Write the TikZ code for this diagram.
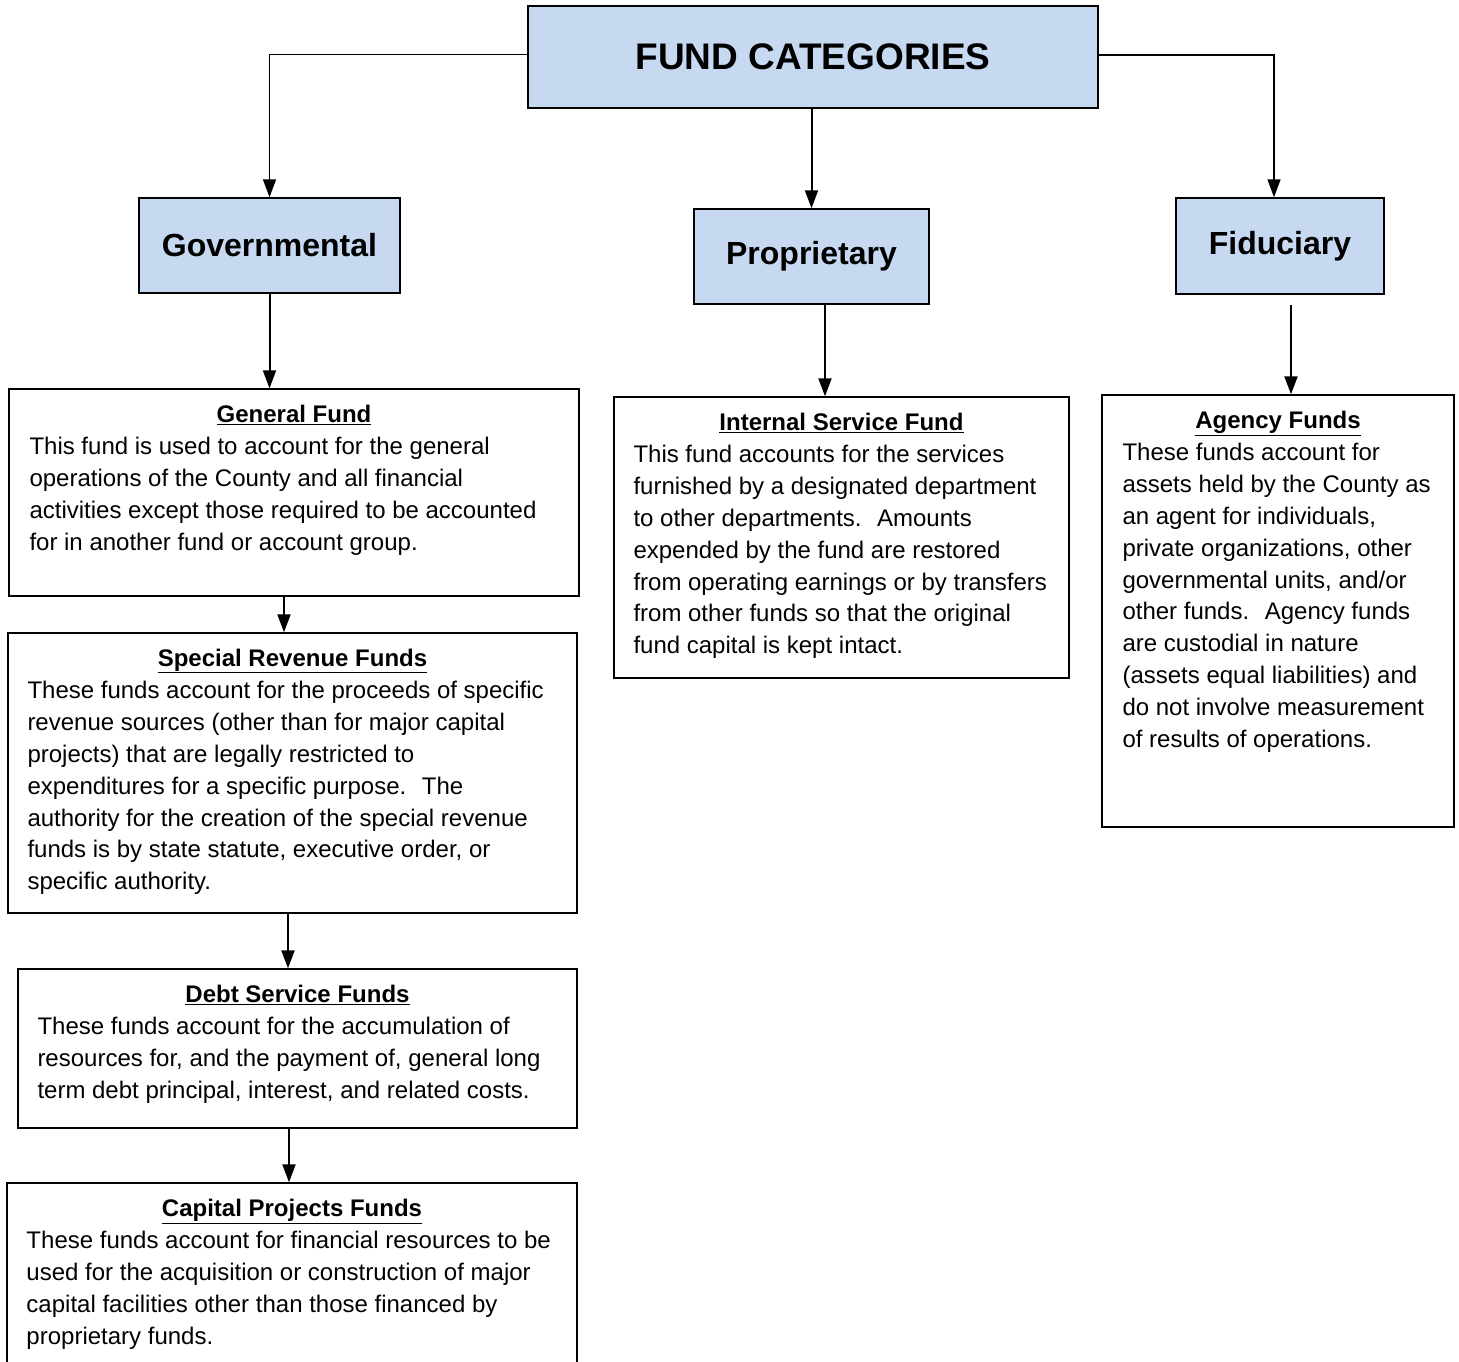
\documentclass[tikz,border=0pt]{standalone}
\usepackage{fontspec}
\setmainfont{Liberation Sans}
\usetikzlibrary{arrows.meta}
\definecolor{catblue}{RGB}{198,217,241}

\begin{document}
\begin{tikzpicture}[x=1pt, y=-1pt,
    catbox/.style={draw, line width=1.5pt, fill=catblue, inner sep=0pt, font=\fontsize{32}{38}\selectfont\bfseries},
    fundbox/.style={draw, line width=1.4pt, inner sep=0pt},
    fundhead/.style={anchor=base, inner sep=0pt, font=\fontsize{24}{31.8}\selectfont\bfseries},
    fundtext/.style={anchor=north west, inner sep=0pt, align=left, font=\fontsize{24}{31.8}\selectfont},
    link/.style={line width=2pt, -{Triangle[length=18pt, width=13pt]}}]
    \useasboundingbox (0, 0) rectangle (1459, 1361);

    \node[catbox, minimum width=570pt, minimum height=102pt, font=\fontsize{37}{44}\selectfont\bfseries] (cat) at (813, 57) {FUND CATEGORIES};
    \node[catbox, minimum width=261pt, minimum height=95pt] (gov) at (269.5, 245.5) {Governmental};
    \node[catbox, minimum width=235pt, minimum height=95pt] (prop) at (811.5, 256.5) {Proprietary};
    \node[catbox, minimum width=208pt, minimum height=96pt] (fid) at (1280, 246) {Fiduciary};

    \node[fundbox, minimum width=570pt, minimum height=207pt] (gen) at (294, 492.5) {};
    \node[fundbox, minimum width=569pt, minimum height=280pt] (srf) at (292.5, 773) {};
    \node[fundbox, minimum width=559pt, minimum height=159pt] (dsf) at (297.5, 1048.5) {};
    \node[fundbox, minimum width=570pt, minimum height=217pt] (cpf) at (292, 1291.5) {};
    \node[fundbox, minimum width=455pt, minimum height=281pt] (isf) at (841.5, 537.5) {};
    \node[fundbox, minimum width=352pt, minimum height=432pt] (agf) at (1278, 611) {};

    \node[fundhead] (genhead) at ([yshift=-34pt]gen.north) {\underline{General Fund}};
    \node[fundtext] (gentext) at ([xshift=21pt, yshift=-49pt]gen.north west) {This fund is used to account for the general\\
        operations of the County and all financial\\
        activities except those required to be accounted\\
        for in another fund or account group.};

    \node[fundhead] (srfhead) at ([yshift=-34pt]srf.north) {\underline{Special Revenue Funds}};
    \node[fundtext] (srftext) at ([xshift=20pt, yshift=-49pt]srf.north west) {These funds account for the proceeds of specific\\
        revenue sources (other than for major capital\\
        projects) that are legally restricted to\\
        expenditures for a specific purpose.~ The\\
        authority for the creation of the special revenue\\
        funds is by state statute, executive order, or\\
        specific authority.};

    \node[fundhead] (dsfhead) at ([yshift=-34pt]dsf.north) {\underline{Debt Service Funds}};
    \node[fundtext] (dsftext) at ([xshift=20pt, yshift=-49pt]dsf.north west) {These funds account for the accumulation of\\
        resources for, and the payment of, general long\\
        term debt principal, interest, and related costs.};

    \node[fundhead] (cpfhead) at ([yshift=-34pt]cpf.north) {\underline{Capital Projects Funds}};
    \node[fundtext] (cpftext) at ([xshift=20pt, yshift=-49pt]cpf.north west) {These funds account for financial resources to be\\
        used for the acquisition or construction of major\\
        capital facilities other than those financed by\\
        proprietary funds.};

    \node[fundhead] (isfhead) at ([yshift=-34pt]isf.north) {\underline{Internal Service Fund}};
    \node[fundtext] (isftext) at ([xshift=20pt, yshift=-49pt]isf.north west) {This fund accounts for the services\\
        furnished by a designated department\\
        to other departments.~ Amounts\\
        expended by the fund are restored\\
        from operating earnings or by transfers\\
        from other funds so that the original\\
        fund capital is kept intact.};

    \node[fundhead] (agfhead) at ([yshift=-34pt]agf.north) {\underline{Agency Funds}};
    \node[fundtext] (agftext) at ([xshift=21pt, yshift=-49pt]agf.north west) {These funds account for\\
        assets held by the County as\\
        an agent for individuals,\\
        private organizations, other\\
        governmental units, and/or\\
        other funds.~ Agency funds\\
        are custodial in nature\\
        (assets equal liabilities) and\\
        do not involve measurement\\
        of results of operations.};

    \coordinate (fidout) at ([xshift=11pt, yshift=-10pt]fid.south);

    \draw[link, line width=1.6pt] ([yshift=2.5pt]cat.west) -| (gov.north);
    \draw[link] (prop.north |- cat.south) -- (prop.north);
    \draw[link, line width=1.6pt] ([yshift=2pt]cat.east) -| ([xshift=-6pt]fid.north);
    \draw[link] (gov.south) -- (gov.south |- gen.north);
    \draw[link] ([xshift=13.5pt]prop.south) -- ([xshift=13.5pt]prop.south |- isf.north);
    \draw[link] (fidout) -- (fidout |- agf.north);
    \draw[link] ([xshift=-10pt]gen.south) -- ([xshift=-10pt]gen.south |- srf.north);
    \draw[link] ([xshift=-4.5pt]srf.south) -- ([xshift=-4.5pt]srf.south |- dsf.north);
    \draw[link] ([xshift=-8.5pt]dsf.south) -- ([xshift=-8.5pt]dsf.south |- cpf.north);
\end{tikzpicture}
\end{document}
